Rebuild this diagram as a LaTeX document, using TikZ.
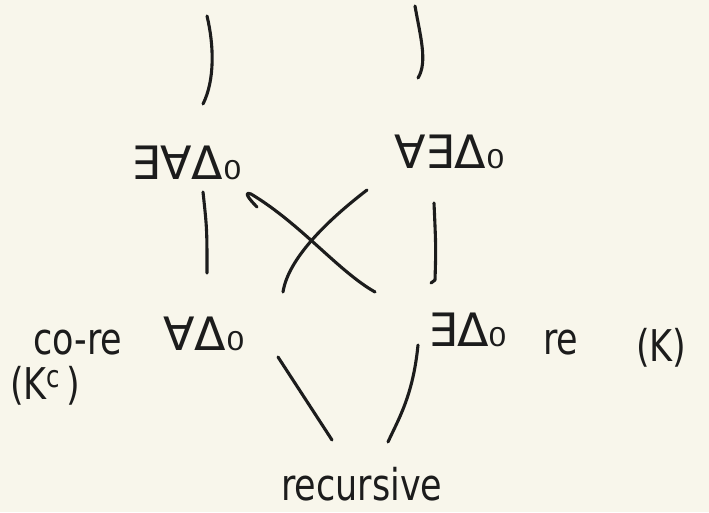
\documentclass[tikz,border=0pt]{standalone}
\usepackage{fontspec}
\setmainfont{DejaVu Sans}
\usetikzlibrary{calc}
\definecolor{paper}{RGB}{248,246,235}
\definecolor{ink}{RGB}{28,28,28}
\newcommand{\tallw}[1]{\scalebox{1}[1.25]{#1}}
\tikzset{
  lab/.style={text=ink, inner sep=0pt, anchor=base west, font=\fontsize{46}{52}\selectfont},
  word/.style={text=ink, inner sep=0pt, anchor=base west, font=\fontsize{35}{40}\selectfont},
  stroke/.style={draw=ink, line width=3.1pt, line cap=round, line join=round}
}
\begin{document}
\begin{tikzpicture}[x=1pt,y=-1pt]
\fill[paper] (0,0) rectangle (709,512);
\useasboundingbox (0,0) rectangle (709,512);

\node[lab] (tl) at (131,179) {∃∀Δ₀};
\node[lab] (tr) at (394,168) {∀∃Δ₀};
\node[lab] (ml) at (163,350) {∀Δ₀};
\node[lab] (mr) at (428,346) {∃Δ₀};
\node[word] (core) at (33,354) {\tallw{co-re}};
\node[word] (kc) at (10,399) {\tallw{(K\textsuperscript{c}\,)}};
\node[word] (re) at (543,354) {\tallw{re}};
\node[word] (k) at (636,361) {\tallw{(K)}};
\node[word] (rec) at (281,500) {\tallw{recursive}};

\coordinate (tlt) at (207,16);
\coordinate (trt) at (415,6);

% free ends upward
\draw[stroke] (tlt) .. controls (214,45) and (215,80) .. ($(tl.base west)+(72,-75)$);
\draw[stroke] (trt) .. controls (420,35) and (428,62) .. ($(tr.base west)+(24,-90)$);

% verticals
\draw[stroke] ($(tl.base west)+(72,13)$) .. controls ($(tl.base west)+(76,50)$) .. ($(ml.base west)+(44,-77)$);
\draw[stroke] ($(tr.base west)+(40,35)$) .. controls ($(tr.base west)+(42,80)$) .. ($(mr.base west)+(7,-66)$)
  -- ++(-4,3);

% cross
\draw[stroke] ($(tl.base west)+(126,28)$) .. controls ($(tl.base west)+(118,20)$) and ($(tl.base west)+(112,12)$) .. ($(tl.base west)+(120,15)$)
  .. controls ($(tl.base west)+(170,45)$) and ($(mr.base west)+(-90,-75)$) .. ($(mr.base west)+(-53,-54)$);
\draw[stroke] ($(tr.base west)+(-27,22)$) .. controls ($(tr.base west)+(-70,55)$) and ($(ml.base west)+(125,-90)$) .. ($(ml.base west)+(120,-58)$);

% bottom
\draw[stroke] ($(ml.base west)+(115,7)$) -- ($(rec.base west)+(51,-60)$);
\draw[stroke] ($(mr.base west)+(-10,-1)$) .. controls ($(mr.base west)+(-15,50)$) and ($(rec.base west)+(117,-80)$) .. ($(rec.base west)+(107,-58)$);
\end{tikzpicture}
\end{document}
